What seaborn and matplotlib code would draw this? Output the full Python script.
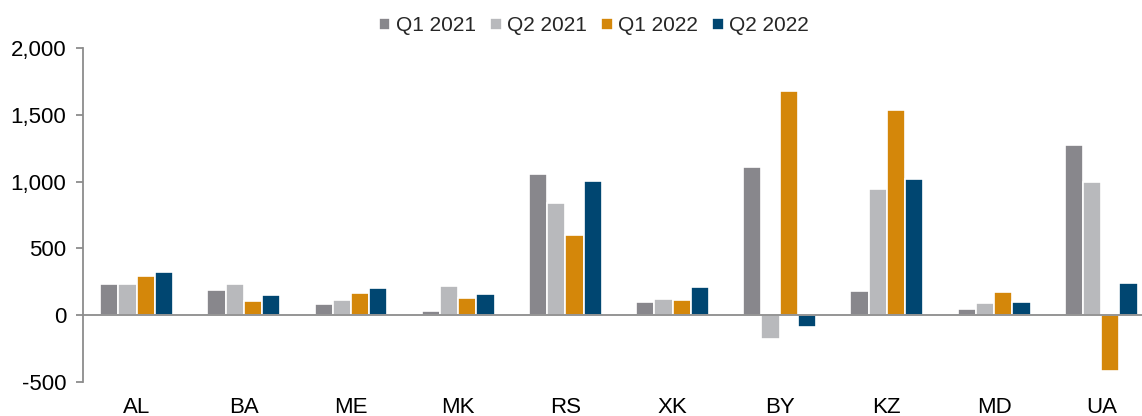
import pandas as pd
import matplotlib.pyplot as plt
import matplotlib.ticker as mticker
import seaborn as sns

countries = ['AL', 'BA', 'ME', 'MK', 'RS', 'XK', 'BY', 'KZ', 'MD', 'UA']
periods = ['Q1 2021', 'Q2 2021', 'Q1 2022', 'Q2 2022']
q1_2021 = [232, 192, 87, 32, 1060, 102, 1112, 180, 45, 1272]
q2_2021 = [237, 232, 115, 215, 842, 120, -175, 947, 92, 995]
q1_2022 = [297, 107, 165, 132, 597, 115, 1680, 1535, 175, -415]
q2_2022 = [322, 150, 202, 155, 1005, 210, -85, 1022, 102, 242]
colors = ['#88878c', '#b8b9bc', '#d4870a', '#004671']

df = pd.DataFrame({'country': countries * 4,
                   'period': sum([[p] * len(countries) for p in periods], []),
                   'value': q1_2021 + q2_2021 + q1_2022 + q2_2022})

sns.set_style('white')
plt.rcParams['font.family'] = ['Liberation Sans', 'DejaVu Sans']

fig = plt.figure(figsize=(11.42, 4.16), dpi=100)
ax = fig.add_axes([83 / 1142, 1 - 382 / 416, 1 - 83 / 1142, (382 - 48) / 416])

sns.barplot(data=df, x='country', y='value', hue='period', palette=colors,
            width=0.68, edgecolor='white', linewidth=1.2, saturation=1,
            ax=ax, legend=True)

ax.set_xlim(-0.5, 9.38)
ax.set_ylim(-500, 2000)
ax.set_yticks(range(-500, 2001, 500))
ax.yaxis.set_major_formatter(mticker.FuncFormatter(lambda v, p: f'{int(v):,}'))
# zero line sits on top of the bar edges
ax.axhline(0, color='#8c8c8c', lw=1.3, zorder=5)
ax.set_xlabel('')
ax.set_ylabel('')

for s in ['top', 'right', 'bottom']:
    ax.spines[s].set_visible(False)
ax.spines['left'].set_color('#8c8c8c')
ax.spines['left'].set_linewidth(1.3)
ax.tick_params(axis='y', left=True, length=5, width=1.3, color='#8c8c8c',
               labelsize=16, pad=7, labelcolor='black')
ax.tick_params(axis='x', bottom=False, labelsize=16, pad=7, labelcolor='black')

handles, labels = ax.get_legend_handles_labels()
ax.get_legend().remove()
fig.legend(handles, labels, loc='center', bbox_to_anchor=(0.52, 0.938),
           ncol=4, frameon=False, fontsize=15, handlelength=0.55,
           handleheight=0.55, handletextpad=0.25, columnspacing=0.7)

fig.savefig('out.png', dpi=100)
